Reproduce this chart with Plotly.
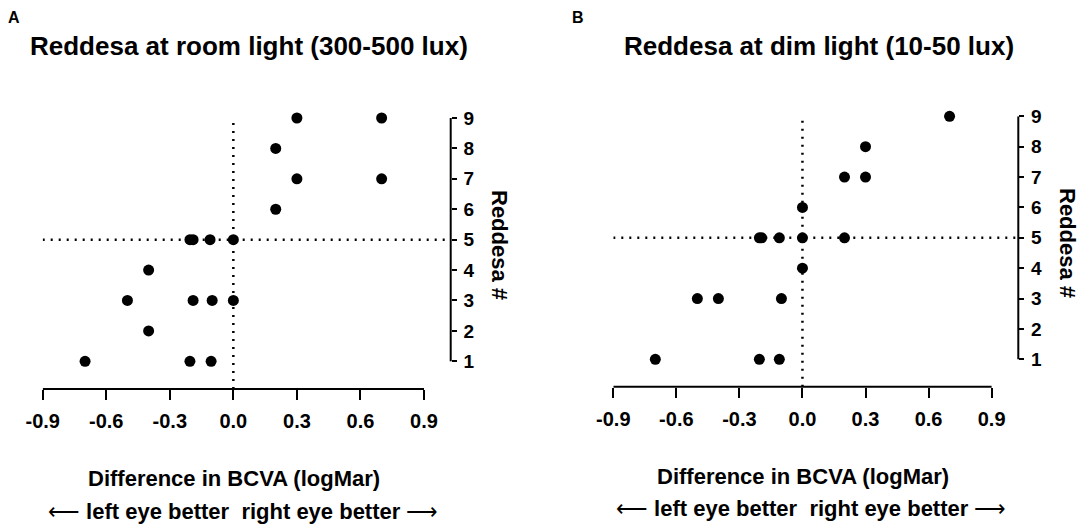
import plotly.graph_objects as go

# ---------------- data ----------------
room_x = [0.3, 0.7, 0.2, 0.3, 0.7, 0.2, -0.205, -0.19, -0.11, 0.0,
          -0.4, -0.5, -0.19, -0.1, 0.0, -0.4, -0.7, -0.205, -0.105]
room_y = [9, 9, 8, 7, 7, 6, 5, 5, 5, 5,
          4, 3, 3, 3, 3, 2, 1, 1, 1]

dim_x = [0.7, 0.3, 0.2, 0.3, 0.0, -0.205, -0.194, -0.11, 0.0, 0.2,
         0.0, -0.5, -0.4, -0.1, -0.7, -0.205, -0.11]
dim_y = [9, 8, 7, 7, 6, 5, 5, 5, 5, 5,
         4, 3, 3, 3, 1, 1, 1]

x_ticks = [-0.9, -0.6, -0.3, 0.0, 0.3, 0.6, 0.9]
x_tick_text = ["-0.9", "-0.6", "-0.3", "0.0", "0.3", "0.6", "0.9"]
y_ticks = [1, 2, 3, 4, 5, 6, 7, 8, 9]

panel_letters = ["A", "B"]
panel_titles = ["Reddesa at room light (300-500 lux)", "Reddesa at dim light (10-50 lux)"]
x_title = "Difference in BCVA (logMar)"
arrow_text = ('<span style="font-weight:normal">\u27f5</span> left eye better  '
              'right eye better <span style="font-weight:normal">\u27f6</span>')
y_title = "Reddesa #"
ref_x = 0.0
ref_y = 5

# ---------------- layout helpers ----------------
W, H = 1084, 529
FONT = "Liberation Sans, Arial, sans-serif"

def px_x(p):
    return p / W

def px_y(p):
    return 1 - p / H

panels = [
    dict(xd=[px_x(42.7), px_x(450.7)], yd=[px_y(389), px_y(118)], xr=[-0.9, 1.026], yr=[0.089, 9],
         letter_x=6, title_x=28, xt_x=234, xt_y=478, ar_x=243, ar_y=511, yt_x=500, yt_y=245),
    dict(xd=[px_x(613.3), px_x(1018.3)], yd=[px_y(386.7), px_y(116.3)], xr=[-0.9, 1.027], yr=[0.098, 9],
         letter_x=570, title_x=622, xt_x=803, xt_y=476, ar_x=811, ar_y=508, yt_x=1067, yt_y=243),
]

fig = go.Figure()
series = [(room_x, room_y), (dim_x, dim_y)]
shapes = []
annotations = []
for i, (p, (sx, sy)) in enumerate(zip(panels, series)):
    suffix = "" if i == 0 else str(i + 1)
    xa, ya = "x" + suffix, "y" + suffix
    fig.add_trace(go.Scatter(x=sx, y=sy, mode="markers", xaxis=xa, yaxis=ya,
                             marker=dict(size=11, color="black"), cliponaxis=False,
                             showlegend=False, hoverinfo="skip"))
    fig.layout["xaxis" + suffix] = dict(
        domain=p["xd"], range=p["xr"], anchor=ya, tickmode="array", tickvals=x_ticks,
        ticktext=x_tick_text, ticks="outside", ticklen=10, tickwidth=2, tickcolor="black",
        showline=False, showgrid=False, zeroline=False, automargin=False, fixedrange=True,
        ticklabelstandoff=4,
        tickfont=dict(family=FONT, size=20, color="black", weight="bold"))
    fig.layout["yaxis" + suffix] = dict(
        domain=p["yd"], range=p["yr"], anchor=xa, side="right", tickmode="array",
        tickvals=y_ticks, ticks="outside", ticklen=5, tickwidth=2, tickcolor="black",
        showline=False, showgrid=False, zeroline=False, automargin=False, fixedrange=True,
        ticklabelstandoff=3,
        tickfont=dict(family=FONT, size=19, color="black", weight="bold"))
    # axis lines (offset Prism style)
    shapes.append(dict(type="line", xref=xa, yref=ya + " domain", x0=x_ticks[0], x1=x_ticks[-1],
                       y0=0, y1=0, line=dict(color="black", width=2)))
    shapes.append(dict(type="line", xref=xa + " domain", yref=ya, x0=1, x1=1,
                       y0=y_ticks[0], y1=y_ticks[-1], line=dict(color="black", width=2)))
    # dotted reference lines
    shapes.append(dict(type="line", xref=xa, yref=ya, x0=ref_x, x1=ref_x, y0=p["yr"][0], y1=y_ticks[-1],
                       layer="below", line=dict(color="black", width=2.5, dash="2px,6px")))
    shapes.append(dict(type="line", xref=xa, yref=ya, x0=x_ticks[0], x1=p["xr"][1], y0=ref_y, y1=ref_y,
                       layer="below", line=dict(color="black", width=2.5, dash="2px,6px")))
    # texts
    annotations.append(dict(text=panel_letters[i], xref="paper", yref="paper", x=px_x(p["letter_x"]),
                            y=px_y(18), xanchor="left", yanchor="middle", showarrow=False,
                            font=dict(family=FONT, size=16, color="black", weight="bold")))
    annotations.append(dict(text=panel_titles[i], xref="paper", yref="paper", x=px_x(p["title_x"]),
                            y=px_y(46), xanchor="left", yanchor="middle", showarrow=False,
                            font=dict(family=FONT, size=26, color="black", weight="bold")))
    annotations.append(dict(text=x_title, xref="paper", yref="paper", x=px_x(p["xt_x"]),
                            y=px_y(p["xt_y"]), xanchor="center", yanchor="middle", showarrow=False,
                            font=dict(family=FONT, size=22, color="black", weight="bold")))
    annotations.append(dict(text=arrow_text, xref="paper", yref="paper", x=px_x(p["ar_x"]),
                            y=px_y(p["ar_y"]), xanchor="center", yanchor="middle", showarrow=False,
                            font=dict(family=FONT, size=22, color="black", weight="bold")))
    annotations.append(dict(text=y_title, xref="paper", yref="paper", x=px_x(p["yt_x"]),
                            y=px_y(p["yt_y"]), xanchor="center", yanchor="middle", showarrow=False,
                            textangle=90,
                            font=dict(family=FONT, size=22, color="black", weight="bold")))

fig.update_layout(width=W, height=H, margin=dict(l=0, r=0, t=0, b=0),
                  paper_bgcolor="white", plot_bgcolor="white",
                  shapes=shapes, annotations=annotations, showlegend=False)

fig.write_html("out.html", config={"displayModeBar": False},
               post_script="document.body.style.margin='0';document.body.style.overflow='hidden';")
